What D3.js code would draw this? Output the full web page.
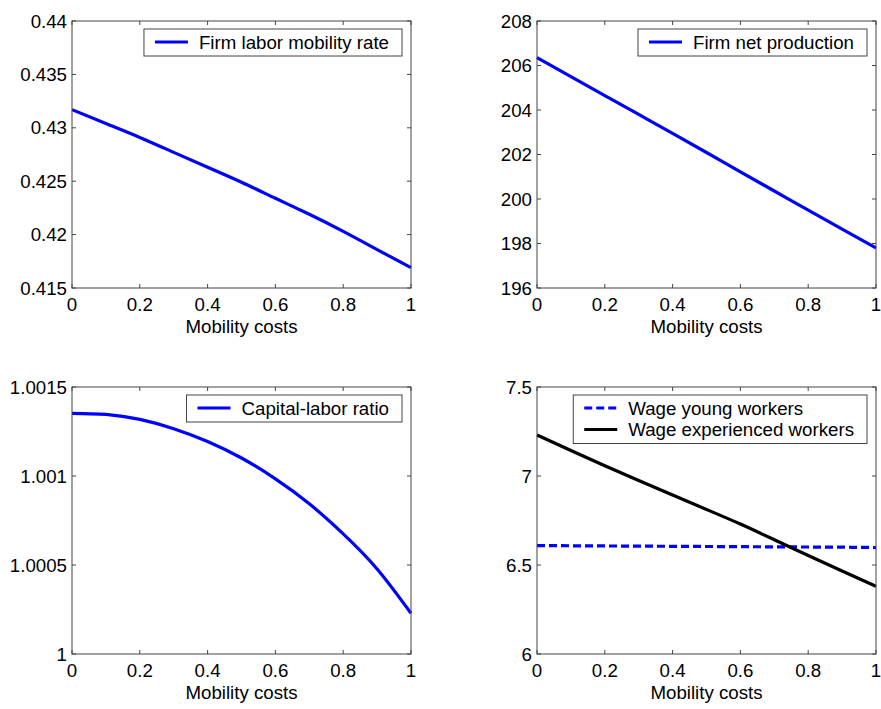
<!DOCTYPE html>
<meta charset="utf-8">
<script src="https://cdn.jsdelivr.net/npm/d3@7"></script>
<style>
  body { margin: 0; background: #fff; }
  text { font-family: Arial, "Liberation Sans", sans-serif; font-size: 18.7px; fill: #000; }
</style>
<div id="chart"></div>
<script>
// mobility costs (x for every panel)
var mobilityCosts = [0, 0.1, 0.2, 0.3, 0.4, 0.5, 0.6, 0.7, 0.8, 0.9, 1];

// series
var mobilityRate = [0.4317, 0.4304, 0.4291, 0.4277, 0.4263, 0.4249, 0.4234, 0.4219, 0.4203, 0.4186, 0.4169];
var netProduction = [206.35, 205.5, 204.65, 203.8, 202.95, 202.09, 201.22, 200.36, 199.5, 198.65, 197.8];
var capitalLabor = [1.001352, 1.001346, 1.001318, 1.001266, 1.001194, 1.001101, 1.000984, 1.000844, 1.000675, 1.000478, 1.000229];
var wageYoung = [6.609, 6.608, 6.607, 6.606, 6.605, 6.604, 6.603, 6.602, 6.601, 6.600, 6.598];
var wageExperienced = [7.23, 7.143, 7.058, 6.975, 6.893, 6.812, 6.73, 6.642, 6.553, 6.466, 6.38];

// tick labels
var xTicks = [0, 0.2, 0.4, 0.6, 0.8, 1];
var xTickLabels = ["0", "0.2", "0.4", "0.6", "0.8", "1"];
var yTicks1 = [0.415, 0.42, 0.425, 0.43, 0.435, 0.44];
var yTickLabels1 = ["0.415", "0.42", "0.425", "0.43", "0.435", "0.44"];
var yTicks2 = [196, 198, 200, 202, 204, 206, 208];
var yTicks3 = [1, 1.0005, 1.001, 1.0015];
var yTickLabels3 = ["1", "1.0005", "1.001", "1.0015"];
var yTicks4 = [6, 6.5, 7, 7.5];
var yTickLabels4 = ["6", "6.5", "7", "7.5"];

var svg = d3.select("#chart").append("svg")
    .attr("width", 881)
    .attr("height", 709);

var panels = [
  { left: 72, top: 21, domain: [0.415, 0.44], ticks: yTicks1, labels: yTickLabels1,
    series: [{ name: "Firm labor mobility rate", values: mobilityRate, color: "#0000ff", dash: null }] },
  { left: 537, top: 21, domain: [196, 208], ticks: yTicks2, labels: yTicks2.map(String),
    series: [{ name: "Firm net production", values: netProduction, color: "#0000ff", dash: null }] },
  { left: 72, top: 387, domain: [1, 1.0015], ticks: yTicks3, labels: yTickLabels3,
    series: [{ name: "Capital-labor ratio", values: capitalLabor, color: "#0000ff", dash: null }] },
  { left: 537, top: 387, domain: [6, 7.5], ticks: yTicks4, labels: yTickLabels4,
    series: [
      { name: "Wage young workers", values: wageYoung, color: "#0000ff", dash: "8,4" },
      { name: "Wage experienced workers", values: wageExperienced, color: "#000", dash: null }
    ] }
];

var W = 339, H = 267, tickLen = 4;

panels.forEach(function(p) {
  var g = svg.append("g").attr("transform", "translate(" + p.left + "," + p.top + ")");
  var x = d3.scaleLinear().domain([0, 1]).range([0, W]);
  var y = d3.scaleLinear().domain(p.domain).range([H, 0]);

  // lines
  p.series.forEach(function(s) {
    var line = d3.line()
        .x(function(d, i) { return x(mobilityCosts[i]); })
        .y(function(d) { return y(d); })
        .curve(d3.curveNatural);
    g.append("path")
        .datum(s.values)
        .attr("d", line)
        .attr("fill", "none")
        .attr("stroke", s.color)
        .attr("stroke-width", 3.2)
        .attr("stroke-dasharray", s.dash);
  });

  // box + inward ticks (matlab style)
  g.append("rect").attr("width", W).attr("height", H)
      .attr("fill", "none").attr("stroke", "#444").attr("stroke-width", 1);

  var xt = g.append("g");
  xTicks.forEach(function(t, i) {
    xt.append("line").attr("x1", x(t)).attr("x2", x(t)).attr("y1", H).attr("y2", H - tickLen).attr("stroke", "#444");
    xt.append("line").attr("x1", x(t)).attr("x2", x(t)).attr("y1", 0).attr("y2", tickLen).attr("stroke", "#444");
    xt.append("text").attr("x", x(t)).attr("y", H + 23).attr("text-anchor", "middle").text(xTickLabels[i]);
  });

  var yt = g.append("g");
  p.ticks.forEach(function(t, i) {
    yt.append("line").attr("x1", 0).attr("x2", tickLen).attr("y1", y(t)).attr("y2", y(t)).attr("stroke", "#444");
    yt.append("line").attr("x1", W).attr("x2", W - tickLen).attr("y1", y(t)).attr("y2", y(t)).attr("stroke", "#444");
    yt.append("text").attr("x", -5).attr("y", y(t)).attr("dy", "0.35em").attr("text-anchor", "end").text(p.labels[i]);
  });

  g.append("text").attr("x", W / 2).attr("y", H + 45).attr("text-anchor", "middle").text("Mobility costs");

  // legend, right aligned in the top corner
  var leg = g.append("g");
  var box = leg.append("rect").attr("fill", "#fff").attr("stroke", "#444").attr("stroke-width", 1);
  var rowH = 21.5, maxW = 0;
  p.series.forEach(function(s, i) {
    var cy = 13 + i * rowH;
    leg.append("line").attr("x1", 11).attr("x2", 44).attr("y1", cy).attr("y2", cy)
        .attr("stroke", s.color).attr("stroke-width", 3.2).attr("stroke-dasharray", s.dash);
    var t = leg.append("text").attr("x", 55).attr("y", cy).attr("dy", "0.35em").text(s.name);
    maxW = Math.max(maxW, t.node().getComputedTextLength());
  });
  var bw = 55 + maxW + 13, bh = 27 + (p.series.length - 1) * rowH;
  box.attr("width", bw).attr("height", bh);
  leg.attr("transform", "translate(" + (W - 9 - bw) + ",8)");
});
</script>
